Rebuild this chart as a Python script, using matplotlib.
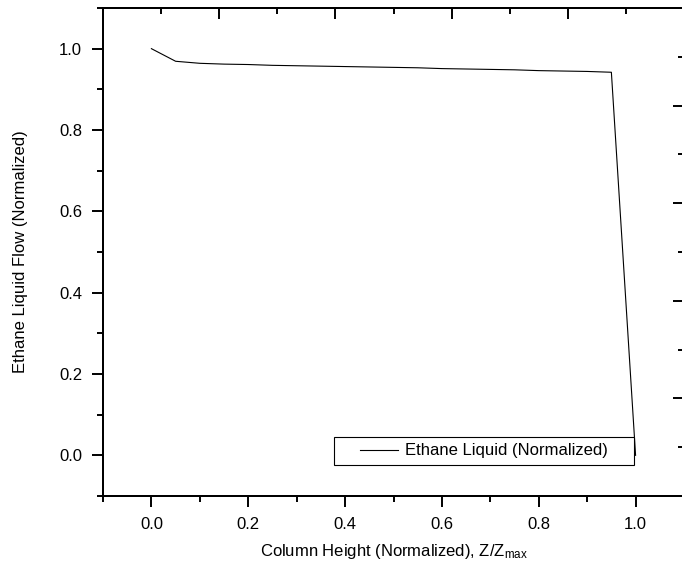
import matplotlib
matplotlib.use("Agg")
import matplotlib.pyplot as plt
from matplotlib.ticker import MultipleLocator
from matplotlib.patches import Rectangle

plt.rcParams['font.family'] = ['Liberation Sans', 'DejaVu Sans']
plt.rcParams['mathtext.fontset'] = 'custom'
plt.rcParams['mathtext.rm'] = 'Liberation Sans'
plt.rcParams['mathtext.it'] = 'Liberation Sans'

# Normalized column height and normalized ethane liquid flow
height = [0.00, 0.05, 0.10, 0.15, 0.20, 0.25, 0.30, 0.35, 0.40, 0.45, 0.50,
          0.55, 0.60, 0.65, 0.70, 0.75, 0.80, 0.85, 0.90, 0.95, 1.00]
ethane_flow = [1.000, 0.969, 0.964, 0.962, 0.961, 0.959, 0.958, 0.957, 0.956,
               0.955, 0.954, 0.953, 0.951, 0.950, 0.949, 0.948, 0.946, 0.945,
               0.944, 0.942, 0.000]
series_label = "Ethane Liquid (Normalized)"
x_label = r"Column Height (Normalized), Z/Z$_{\mathregular{max}}$"
y_label = "Ethane Liquid Flow (Normalized)"

W, H, DPI = 682, 576, 100
fig = plt.figure(figsize=(W / DPI, H / DPI), dpi=DPI)
left, right, bottom, top = 103, 684, 80, 568
ax = fig.add_axes([left / W, bottom / H, (right - left) / W, (top - bottom) / H])

spine_w = 1.4
for s in ax.spines.values():
    s.set_linewidth(spine_w)

ax.plot(height, ethane_flow, color='black', lw=0.8, label=series_label)

ax.set_xlim(-0.1, 1.1)
ax.set_ylim(-0.1, 1.1)
ax.xaxis.set_minor_locator(MultipleLocator(0.1))
ax.yaxis.set_minor_locator(MultipleLocator(0.1))
ax.set_xticks([0.0, 0.2, 0.4, 0.6, 0.8, 1.0])
ax.set_yticks([0.0, 0.2, 0.4, 0.6, 0.8, 1.0])
ax.set_xticklabels(["0.0", "0.2", "0.4", "0.6", "0.8", "1.0"])
ax.set_yticklabels(["0.0", "0.2", "0.4", "0.6", "0.8", "1.0"])
ax.tick_params(which='major', direction='out', length=8, width=spine_w,
               labelsize=12, pad=7, top=False, right=False)
ax.tick_params(which='minor', direction='out', length=4, width=spine_w,
               top=False, right=False)

ax.set_xlabel(x_label, fontsize=12, labelpad=7.5)
ax.set_ylabel(y_label, fontsize=12, labelpad=22)

# Unlabelled inward ticks on the top and right frame
ax_top = ax.twiny()
ax_top.set_xlim(0, 5)
ax_top.xaxis.set_major_locator(MultipleLocator(1))
ax_top.xaxis.set_minor_locator(MultipleLocator(0.5))
ax_top.tick_params(axis='x', which='major', direction='in', length=8, width=spine_w,
                   top=True, bottom=False, labeltop=False, labelbottom=False)
ax_top.tick_params(axis='x', which='minor', direction='in', length=4, width=spine_w,
                   top=True, bottom=False)
ax_right = ax.twinx()
ax_right.set_ylim(0, 10)
ax_right.yaxis.set_major_locator(MultipleLocator(2))
ax_right.yaxis.set_minor_locator(MultipleLocator(1))
ax_right.tick_params(axis='y', which='major', direction='in', length=8, width=spine_w,
                     right=True, left=False, labelright=False, labelleft=False)
ax_right.tick_params(axis='y', which='minor', direction='in', length=4, width=spine_w,
                     right=True, left=False)
for a in (ax_top, ax_right):
    for s in a.spines.values():
        s.set_linewidth(spine_w)

# Legend: wide rectangular frame with the entry centred inside
box_x0, box_x1 = 0.3976, 0.914
box_y0, box_y1 = 0.0635, 0.121
frame = Rectangle((box_x0, box_y0), box_x1 - box_x0, box_y1 - box_y0,
                  transform=ax.transAxes, facecolor='white', edgecolor='black',
                  linewidth=0.8, zorder=4)
ax_right.add_patch(frame)
ax_right.set_ylim(0, 10)
leg = ax_right.legend(*ax.get_legend_handles_labels(), loc='center',
                      bbox_to_anchor=((box_x0 + box_x1) / 2, (box_y0 + box_y1) / 2),
                      bbox_transform=ax.transAxes, borderaxespad=0, fontsize=12,
                      frameon=False, handlelength=2.25, handletextpad=0.45,
                      borderpad=0.2)
leg.set_zorder(5)

fig.savefig("out.png", dpi=DPI)
